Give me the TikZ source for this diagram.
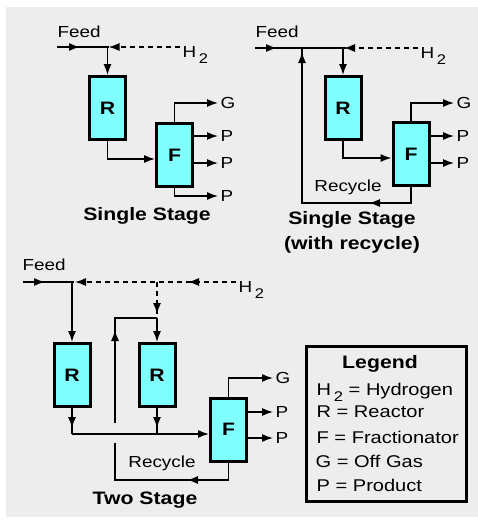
\documentclass[tikz,border=0pt]{standalone}
\usepackage{fontspec}
\setmainfont{Liberation Sans}[FakeStretch=1.18]
\usetikzlibrary{arrows.meta}
\usetikzlibrary{decorations.markings}
\definecolor{qcyan}{RGB}{128,255,255}
\definecolor{qgray}{RGB}{237,237,237}
\newcommand{\htwo}{H\,\raisebox{-6pt}{\fontsize{14}{14}\selectfont 2}}

\begin{document}
\begin{tikzpicture}[x=1pt,y=-1pt,line width=1.3pt,
  >={Latex[length=11pt,width=8pt]},
  vessel/.style={draw,line width=3pt,fill=qcyan,minimum width=36pt,minimum height=63pt,inner sep=0pt,font=\fontsize{18}{18}\selectfont\bfseries},
  lbl/.style={inner sep=2pt,font=\fontsize{16}{18}\selectfont},
  leg/.style={inner sep=0pt,anchor=base west,font=\fontsize{17}{18}\selectfont},
  stagename/.style={align=center,font=\fontsize{18}{25}\selectfont\bfseries},
  flow/.style={postaction={decorate,solid,decoration={markings,mark=at position #1 with {\arrow{>}}}}},
  h2line/.style={dash pattern=on 5pt off 4pt}]

\useasboundingbox (0,0) rectangle (478,520);
\fill[qgray] (6,7) rectangle (478,517);

%single stage:
\node[vessel] (Ra) at (107.5,108) {R};
\node[vessel] (Fa) at (174.5,155) {F};
\coordinate (feedA) at (57,47);
\coordinate (Ja) at (107.5,47);
\node[lbl,anchor=west] (feedlblA) at (55,32) {Feed};
\node[lbl,anchor=base west] (hA) at (180,57) {\htwo};
\node[lbl,anchor=west] (Ga) at (218,103) {G};
\node[lbl,anchor=west] (Pa1) at (218,136) {P};
\node[lbl,anchor=west] (Pa2) at (218,163) {P};
\node[lbl,anchor=west] (Pa3) at (218,196) {P};

\draw[flow=23pt] (feedA) -- (Ja);
\draw[->] (Ja) -- (Ra.north);
\draw[h2line,flow=-1pt] (hA.west |- Ja) -- (Ja);
\draw[->] (Ra.south) |- ([yshift=-4pt]Fa.west);
\draw[->] (Fa.north) |- (Ga.west);
\draw[->] (Fa.east |- Pa1.west) -- (Pa1.west);
\draw[->] (Fa.east |- Pa2.west) -- (Pa2.west);
\draw[->] (Fa.south) |- (Pa3.west);
\node[stagename] (tA) at (147,216) {Single Stage};

%single stage with recycle:
\node[vessel] (Rb) at (343,108) {R};
\node[vessel] (Fb) at (411,154) {F};
\coordinate (feedB) at (255,48);
\coordinate (Kb) at (302,48);
\coordinate (Jb) at (343,48);
\coordinate (recB) at (302,203);
\node[lbl,anchor=west] (feedlblB) at (253,32) {Feed};
\node[lbl,anchor=base west] (hB) at (418,58) {\htwo};
\node[lbl,anchor=west] (Gb) at (454,103) {G};
\node[lbl,anchor=west] (Pb1) at (454,136) {P};
\node[lbl,anchor=west] (Pb2) at (454,163) {P};

\draw[flow=22pt] (feedB) -- (Jb);
\draw[->] (Jb) -- (Rb.north);
\draw[h2line,flow=-1pt] (hB.west |- Jb) -- (Jb);
\draw[->] (Rb.south) |- ([yshift=-4pt]Fb.west);
\draw[->] (Fb.north) |- (Gb.west);
\draw[->] (Fb.east |- Pb1.west) -- (Pb1.west);
\draw[->] (Fb.east |- Pb2.west) -- (Pb2.west);
\draw[flow=58pt,flow=-4pt] (Fb.south) |- (recB) -- (Kb);
\node[lbl] (rlB) at (348,187) {Recycle};
\node[stagename] (tB) at (352,232) {Single Stage\\(with recycle)};

%two stage:
\node[vessel] (Rc1) at (72,375) {R};
\node[vessel] (Rc2) at (157,375) {R};
\node[vessel] (Fc) at (228.5,429.5) {F};
\coordinate (feedC) at (23,282);
\coordinate (Jc) at (72,282);
\coordinate (Dc) at (157,282);
\coordinate (Mc) at (157,318);
\coordinate (Bc) at (72,434);
\coordinate (recC1) at (115,480);
\coordinate (recC2) at (115,443);
\coordinate (recC3) at (115,423);
\coordinate (recC4) at (115,318);
\node[lbl,anchor=west] (feedlblC) at (20,265) {Feed};
\node[lbl,anchor=base west] (hC) at (236,292) {\htwo};
\node[lbl,anchor=west] (Gc) at (273,378) {G};
\node[lbl,anchor=west] (Pc1) at (273,412) {P};
\node[lbl,anchor=west] (Pc2) at (273,438) {P};

\draw[flow=22pt] (feedC) -- (Jc);
\draw[->] (Jc) -- (Rc1.north);
\draw[h2line,flow=-3pt,flow=48pt] (hC.west |- Jc) -- (Jc);
\draw[h2line,flow=-4pt] (Dc) -- (Mc);
\draw[->] (Mc) -- (Rc2.north);
\draw[flow=-6pt] (Rc1.south) -- (Bc);
\draw[->] (Bc) -- ([yshift=-4.5pt]Fc.west);
\draw[flow=-6pt] (Rc2.south) -- (Rc2.south |- Bc);
\draw[->] (Fc.north) |- (Gc.west);
\draw[->] (Fc.east |- Pc1.west) -- (Pc1.west);
\draw[->] (Fc.east |- Pc2.west) -- (Pc2.west);
\draw[flow=59pt] (Fc.south) |- (recC1) -- (recC2);
\draw[flow=93pt] (recC3) -- (recC4) -- (Mc);
\node[lbl] (rlC) at (162,463) {Recycle};
\node[stagename] (tC) at (145,500) {Two Stage};

%legend:
\node[draw,line width=3pt,minimum width=160pt,minimum height=155pt] (legend) at (386,423.5) {};
\node[inner sep=0pt,anchor=base,font=\fontsize{18}{18}\selectfont\bfseries] (legtitle) at (380,368) {Legend};
\node[leg] (legH) at (316,395) {\htwo{} = Hydrogen};
\node[leg] (legR) at (316,417) {R = Reactor};
\node[leg] (legF) at (316,443) {F = Fractionator};
\node[leg] (legG) at (315,467) {G = Off Gas};
\node[leg] (legP) at (316,491) {P = Product};

\end{tikzpicture}
\end{document}
